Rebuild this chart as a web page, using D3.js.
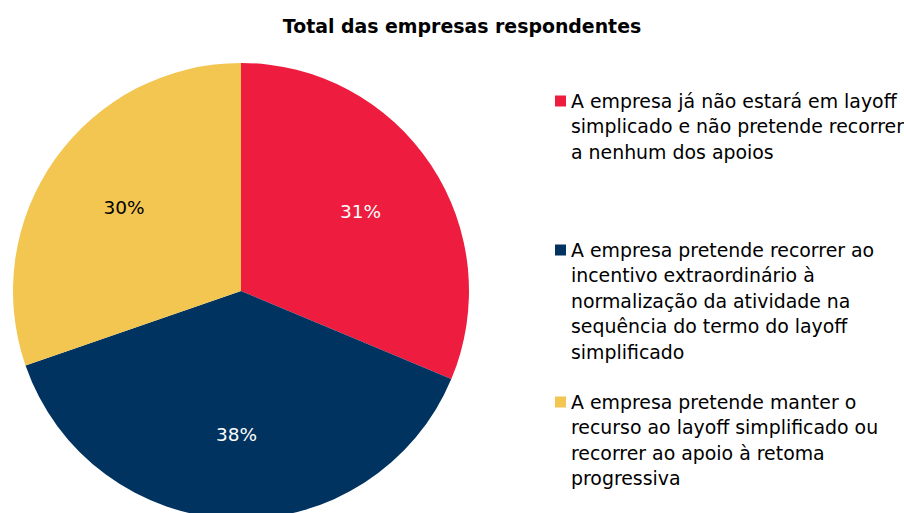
<!DOCTYPE html>
<html>
<head>
<meta charset="utf-8">
<script src="https://cdn.jsdelivr.net/npm/d3@7"></script>
<style>
  body { margin: 0; background: #fff; }
  svg { display: block; font-family: "DejaVu Sans", Verdana, sans-serif; }
</style>
</head>
<body>
<div id="chart"></div>
<script>
var svgWidth = 904;
var svgHeight = 513;

// Data
var categories = ["naoRecorre", "incentivo", "manterLayoff"];
var values = [31, 38, 30];
var colors = ["#EE1C3E", "#00335F", "#F2C650"];
var labelColors = ["#ffffff", "#ffffff", "#000000"];
var legendLines = [
  ["A empresa já não estará em layoff", "simplicado e não pretende recorrer", "a nenhum dos apoios"],
  ["A empresa pretende recorrer ao", "incentivo extraordinário à", "normalização da atividade na", "sequência do termo do layoff", "simplificado"],
  ["A empresa pretende manter o", "recurso ao layoff simplificado ou", "recorrer ao apoio à retoma", "progressiva"]
];
var title = "Total das empresas respondentes";

var cx = 241, cy = 291, radius = 228;

var svg = d3.select("#chart")
  .append("svg")
  .attr("width", svgWidth)
  .attr("height", svgHeight);

svg.append("text")
  .attr("x", 462)
  .attr("y", 33)
  .attr("text-anchor", "middle")
  .attr("font-size", "18.9px")
  .attr("font-weight", "bold")
  .attr("fill", "#000")
  .text(title);

var data = categories.map((c, i) => ({ key: c, value: values[i], color: colors[i], labelColor: labelColors[i] }));

var pie = d3.pie().sort(null).value(d => d.value);
var arc = d3.arc().innerRadius(0).outerRadius(radius);
var labelArc = d3.arc().innerRadius(radius * 0.63).outerRadius(radius * 0.63);

var pieGroup = svg.append("g")
  .attr("transform", `translate(${cx}, ${cy})`);

var arcs = pie(data);

pieGroup.selectAll("path")
  .data(arcs)
  .enter()
  .append("path")
  .attr("d", arc)
  .attr("fill", d => d.data.color);

pieGroup.selectAll(".sliceLabel")
  .data(arcs)
  .enter()
  .append("text")
  .attr("class", "sliceLabel")
  .attr("transform", d => `translate(${labelArc.centroid(d)})`)
  .attr("text-anchor", "middle")
  .attr("dy", "0.35em")
  .attr("font-size", "18.5px")
  .attr("fill", d => d.data.labelColor)
  .text(d => d.data.value + "%");

// Legend
var legendTops = [101, 250, 402];
var lineHeight = 25.5;

var legend = svg.append("g");

data.forEach(function(d, i) {
  var g = legend.append("g").attr("transform", `translate(555, ${legendTops[i]})`);
  g.append("rect")
    .attr("x", 0)
    .attr("y", -5.5)
    .attr("width", 11)
    .attr("height", 11)
    .attr("fill", d.color);
  legendLines[i].forEach(function(line, j) {
    g.append("text")
      .attr("x", 16)
      .attr("y", j * lineHeight)
      .attr("dy", "0.35em")
      .attr("font-size", "18.9px")
      .attr("fill", "#000")
      .text(line);
  });
});
</script>
</body>
</html>
